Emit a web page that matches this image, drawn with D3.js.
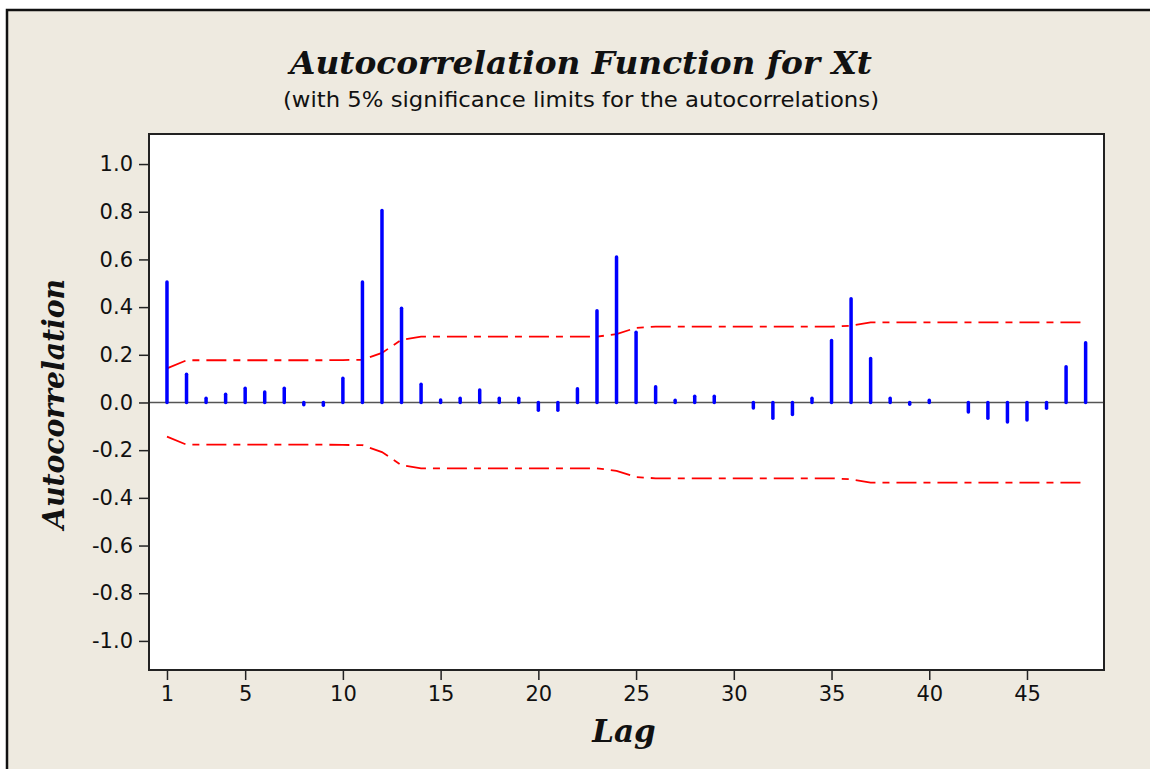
<!DOCTYPE html>
<html lang="en">
<head>
    <meta charset="UTF-8">
    <title>Autocorrelation Function for Xt</title>
    <style>
        body {
            margin: 0;
            padding: 0;
            background: #ffffff;
        }

        svg {
            display: block;
        }

        .tick-label {
            font-family: "DejaVu Sans", sans-serif;
            font-size: 21px;
            fill: #111;
        }

        .script-text {
            font-family: "DejaVu Serif", serif;
            font-style: italic;
            fill: #111;
        }
    </style>
</head>
<body>

    <svg width="1150" height="769"></svg>

    <script src="https://d3js.org/d3.v7.min.js"></script>
    <script>
        const svg = d3.select("svg");

        // Lags 1..48
        const lags = d3.range(1, 49);

        // Autocorrelation at each lag
        const acf = [
            0.505, 0.118, 0.018, 0.034, 0.060, 0.044, 0.060, -0.010, -0.012, 0.102,
            0.505, 0.805, 0.395, 0.076, 0.010, 0.018, 0.052, 0.018, 0.018, -0.033,
            -0.033, 0.058, 0.385, 0.610, 0.295, 0.066, 0.009, 0.026, 0.026, 0.000,
            -0.023, -0.066, -0.050, 0.018, 0.260, 0.435, 0.184, 0.018, -0.007, 0.009,
            0.000, -0.040, -0.066, -0.082, -0.074, -0.024, 0.150, 0.250
        ];

        // 5% significance limits
        const upperLimit = [
            0.143, 0.177, 0.177, 0.177, 0.177, 0.177, 0.177, 0.177, 0.177, 0.178,
            0.179, 0.208, 0.263, 0.276, 0.276, 0.276, 0.276, 0.276, 0.276, 0.276,
            0.276, 0.276, 0.276, 0.287, 0.313, 0.318, 0.318, 0.318, 0.318, 0.318,
            0.318, 0.318, 0.318, 0.318, 0.318, 0.322, 0.336, 0.336, 0.336, 0.336,
            0.336, 0.336, 0.336, 0.336, 0.336, 0.336, 0.336, 0.336
        ];
        const lowerLimit = [
            -0.143, -0.177, -0.177, -0.177, -0.177, -0.177, -0.177, -0.177, -0.177, -0.178,
            -0.179, -0.208, -0.263, -0.276, -0.276, -0.276, -0.276, -0.276, -0.276, -0.276,
            -0.276, -0.276, -0.276, -0.287, -0.313, -0.318, -0.318, -0.318, -0.318, -0.318,
            -0.318, -0.318, -0.318, -0.318, -0.318, -0.322, -0.336, -0.336, -0.336, -0.336,
            -0.336, -0.336, -0.336, -0.336, -0.336, -0.336, -0.336, -0.336
        ];

        // Tick labels
        const xTicks = [1, 5, 10, 15, 20, 25, 30, 35, 40, 45];
        const yTicks = [-1.0, -0.8, -0.6, -0.4, -0.2, 0.0, 0.2, 0.4, 0.6, 0.8, 1.0];

        const titleText = "Autocorrelation Function for Xt";
        const subtitleText = "(with 5% significance limits for the autocorrelations)";
        const xLabel = "Lag";
        const yLabel = "Autocorrelation";

        // Plot area box
        const plot = { left: 149, right: 1104, top: 134, bottom: 670 };

        // Outer beige panel with black frame on top/left
        svg.append("rect")
            .attr("x", 7).attr("y", 10)
            .attr("width", 1150).attr("height", 770)
            .attr("fill", "#eeeae0")
            .attr("stroke", "#111")
            .attr("stroke-width", 2.5);

        // Plot background
        svg.append("rect")
            .attr("x", plot.left).attr("y", plot.top)
            .attr("width", plot.right - plot.left)
            .attr("height", plot.bottom - plot.top)
            .attr("fill", "#ffffff");

        const x = d3.scaleLinear()
            .domain([0.08, 48.94])
            .range([plot.left, plot.right]);

        const y = d3.scaleLinear()
            .domain([-1.122, 1.126])
            .range([plot.bottom, plot.top]);

        // Axes (plain hyphen for negatives, as in the original)
        const yAxis = svg.append("g")
            .attr("transform", `translate(${plot.left},0)`)
            .call(d3.axisLeft(y).tickValues(yTicks).tickFormat(d => d.toFixed(1))
                .tickSize(10).tickPadding(6).tickSizeOuter(0));

        const xAxis = svg.append("g")
            .attr("transform", `translate(0,${plot.bottom})`)
            .call(d3.axisBottom(x).tickValues(xTicks).tickFormat(d3.format("d"))
                .tickSize(10).tickPadding(6).tickSizeOuter(0));

        [xAxis, yAxis].forEach(g => {
            g.select(".domain").remove();
            g.selectAll(".tick line").attr("stroke", "#222").attr("stroke-width", 1.5);
            g.selectAll(".tick text").attr("class", "tick-label").attr("fill", "#111");
        });

        // Zero reference line
        svg.append("line")
            .attr("x1", plot.left).attr("x2", plot.right)
            .attr("y1", y(0)).attr("y2", y(0))
            .attr("stroke", "#555")
            .attr("stroke-width", 1.5);

        // Significance limit lines
        const limitLine = d3.line()
            .x((d, i) => x(lags[i]))
            .y(d => y(d));

        [upperLimit, lowerLimit].forEach(lim => {
            svg.append("path")
                .datum(lim)
                .attr("d", limitLine)
                .attr("fill", "none")
                .attr("stroke", "#ff0000")
                .attr("stroke-width", 1.8)
                .attr("stroke-dasharray", "20,7,7,7");
        });

        // ACF spikes
        svg.selectAll(".spike")
            .data(lags.map((l, i) => ({ lag: l, v: acf[i] })).filter(d => d.v !== 0))
            .enter()
            .append("line")
            .attr("class", "spike")
            .attr("x1", d => x(d.lag)).attr("x2", d => x(d.lag))
            .attr("y1", y(0)).attr("y2", d => y(d.v))
            .attr("stroke", "#0000ff")
            .attr("stroke-width", 3.5)
            .attr("stroke-linecap", "round");

        // Plot frame
        svg.append("rect")
            .attr("x", plot.left).attr("y", plot.top)
            .attr("width", plot.right - plot.left)
            .attr("height", plot.bottom - plot.top)
            .attr("fill", "none")
            .attr("stroke", "#222")
            .attr("stroke-width", 2);

        // Titles
        svg.append("text")
            .attr("class", "script-text")
            .attr("x", 581).attr("y", 74)
            .attr("text-anchor", "middle")
            .attr("font-size", 31)
            .attr("font-weight", "bold")
            .attr("textLength", 582)
            .attr("lengthAdjust", "spacingAndGlyphs")
            .text(titleText);

        svg.append("text")
            .attr("class", "tick-label")
            .attr("x", 581).attr("y", 107)
            .attr("text-anchor", "middle")
            .attr("font-size", 22)
            .attr("textLength", 596)
            .attr("lengthAdjust", "spacingAndGlyphs")
            .text(subtitleText);

        svg.append("text")
            .attr("class", "script-text")
            .attr("x", 624).attr("y", 742)
            .attr("text-anchor", "middle")
            .attr("font-size", 31)
            .attr("font-weight", "bold")
            .text(xLabel);

        svg.append("text")
            .attr("class", "script-text")
            .attr("transform", "translate(64,404) rotate(-90)")
            .attr("text-anchor", "middle")
            .attr("font-size", 29)
            .attr("font-weight", "bold")
            .attr("textLength", 250)
            .attr("lengthAdjust", "spacingAndGlyphs")
            .text(yLabel);
    </script>

</body>
</html>
